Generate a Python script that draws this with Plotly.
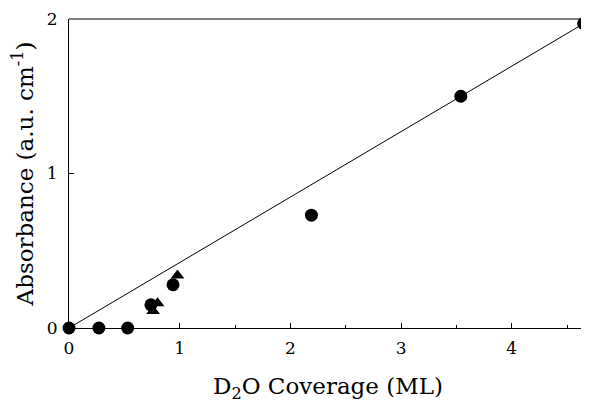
import plotly.graph_objects as go

circle_x = [0.0, 0.27, 0.53, 0.74, 0.94, 2.19, 3.54, 4.65]
circle_y = [0.0, 0.0, 0.0, 0.15, 0.28, 0.73, 1.50, 1.97]
tri_x = [0.76, 0.80, 0.98]
tri_y = [0.11, 0.16, 0.34]
fit_x = [0.0, 4.65]
fit_y = [0.0, 1.97]

font_family = "DejaVu Serif"

fig = go.Figure()
fig.add_trace(go.Scatter(x=fit_x, y=fit_y, mode="lines",
                         line=dict(color="black", width=1), cliponaxis=False,
                         showlegend=False))
fig.add_trace(go.Scatter(x=tri_x, y=tri_y, mode="markers",
                         marker=dict(symbol="triangle-up", size=12, color="black"),
                         cliponaxis=False, showlegend=False))
fig.add_trace(go.Scatter(x=circle_x, y=circle_y, mode="markers",
                         marker=dict(symbol="circle", size=13, color="black"),
                         cliponaxis=False, showlegend=False))

# top frame line
fig.add_shape(type="line", xref="paper", yref="paper", x0=0, x1=1, y0=1, y1=1,
              line=dict(color="black", width=1))

# page body has an 8px margin, so the figure is sized/offset to compensate
fig.update_layout(
    width=581, height=395,
    margin=dict(l=61, r=2, t=11, b=75, autoexpand=False),
    plot_bgcolor="white", paper_bgcolor="white",
    font=dict(family=font_family, color="black", size=17),
    xaxis=dict(range=[0, 4.68], tickvals=[0, 1, 2, 3, 4], ticks="inside",
               ticklen=5, tickcolor="black", showline=True, linecolor="black",
               linewidth=1, showgrid=False, zeroline=False,
               automargin=False, ticklabelstandoff=5,
               minor=dict(tickvals=[0.5, 1.5, 2.5, 3.5, 4.5], ticks="inside",
                          ticklen=3, tickcolor="black"),
               title=dict(text="D<sub>2</sub>O Coverage (ML)", font=dict(size=23),
                          standoff=24)),
    yaxis=dict(range=[0, 2], tickvals=[0, 1, 2], ticks="inside", ticklen=5,
               tickcolor="black", showline=True, linecolor="black", linewidth=1,
               showgrid=False, zeroline=False, automargin=False,
               ticklabelstandoff=7,
               title=dict(text="Absorbance (a.u. cm<sup>-1</sup>)", font=dict(size=23),
                          standoff=12)),
)

fig.write_html("out.html")
